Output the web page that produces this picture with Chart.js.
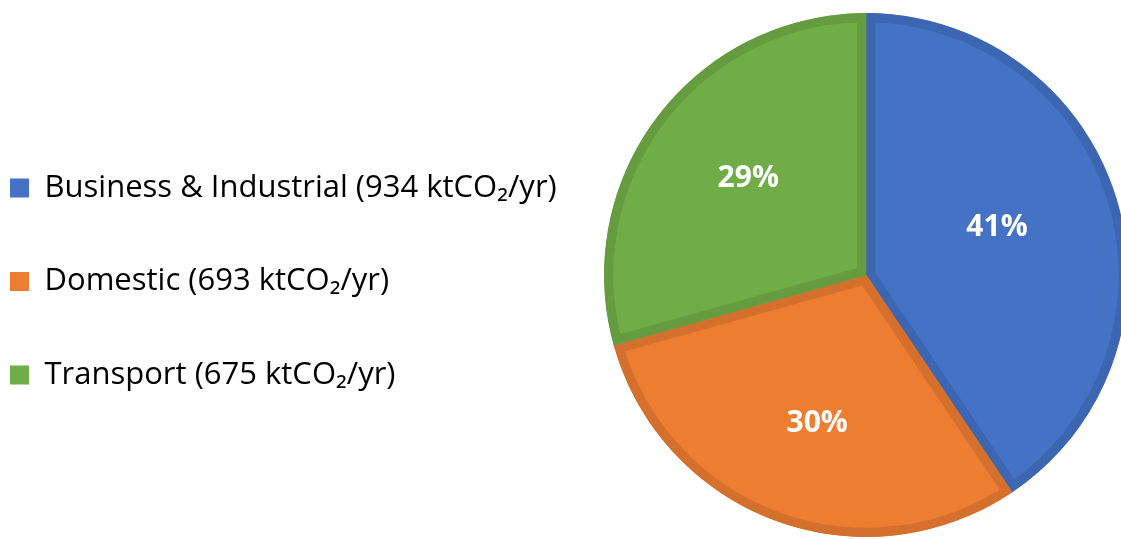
<!DOCTYPE html>
<html>
<head>
<meta charset="utf-8">
<script src="https://cdn.jsdelivr.net/npm/chart.js@4.4.1/dist/chart.umd.min.js"></script>
<style>
  html, body { margin: 0; padding: 0; background: #ffffff; overflow: hidden; width: 1121px; height: 539px; }
  #wrap { position: absolute; left: 0; top: 0; width: 1400px; height: 539px; }
</style>
</head>
<body>
<div id="wrap"><canvas id="c" width="1400" height="539"></canvas></div>
<script>
// ---- data ----
const categories = ['Business & Industrial', 'Domestic', 'Transport'];
const emissions = [934, 693, 675];
const unit = 'ktCO\u2082/yr';

// ---- styles ----
const fillColors = ['#4472C4', '#ED7D31', '#70AD47'];
const borderColors = ['#3C66B1', '#D4702C', '#659C40'];
const TARGET_CX = 866;
const LEGEND_FONT_SIZE = 31;

const legendLabels = categories.map((c, i) => c + ' (' + emissions[i] + ' ' + unit + ')');
const total = emissions.reduce((a, b) => a + b, 0);
const percentLabels = emissions.map(v => Math.round(v / total * 100) + '%');

const pctPlugin = {
  id: 'pctLabels',
  afterDatasetsDraw(chart, args, opts) {
    const ctx = chart.ctx;
    const meta = chart.getDatasetMeta(0);
    ctx.save();
    ctx.font = opts.font;
    ctx.fillStyle = opts.color;
    ctx.textAlign = 'center';
    ctx.textBaseline = 'middle';
    meta.data.forEach((arc, i) => {
      const p = arc.getProps(['x', 'y', 'startAngle', 'endAngle', 'outerRadius'], true);
      const mid = (p.startAngle + p.endAngle) / 2 + opts.angleShiftDeg[i] * Math.PI / 180;
      const r = p.outerRadius * opts.radiusFactor[i];
      ctx.fillText(percentLabels[i], p.x + Math.cos(mid) * r, p.y + Math.sin(mid) * r);
    });
    ctx.restore();
  }
};

const rowPad = 93.5 - LEGEND_FONT_SIZE;
const chart = new Chart(document.getElementById('c'), {
  type: 'pie',
  data: {
    labels: legendLabels,
    datasets: [{
      data: emissions,
      backgroundColor: fillColors,
      borderColor: borderColors,
      borderWidth: 9,
      borderAlign: 'inner',
      borderJoinStyle: 'miter',
      offset: 0,
      hoverOffset: 0,
      radius: 262
    }]
  },
  options: {
    responsive: false,
    animation: false,
    events: [],
    layout: { padding: { left: 10 - rowPad, top: 11, bottom: 0, right: 0 } },
    plugins: {
      tooltip: { enabled: false },
      legend: {
        position: 'left',
        align: 'center',
        maxWidth: 900,
        title: { display: true, text: '', padding: 0, font: { size: 10, lineHeight: 1.3 } },
        labels: {
          boxWidth: 19,
          boxHeight: 19,
          padding: rowPad,
          color: '#000000',
          font: { family: "'Open Sans'", size: LEGEND_FONT_SIZE },
          generateLabels: () => legendLabels.map((t, i) => ({
            text: t,
            fillStyle: fillColors[i],
            strokeStyle: fillColors[i],
            lineWidth: 0,
            fontColor: '#000000',
            hidden: false,
            index: i
          }))
        }
      },
      pctLabels: {
        font: "bold 30px 'Open Sans'",
        color: '#ffffff',
        radiusFactor: [0.532, 0.595, 0.58],
        angleShiftDeg: [-3, -2, 2]
      }
    }
  },
  plugins: [pctPlugin]
});

const a = chart.chartArea;
const cx = (a.left + a.right) / 2;
chart.options.layout.padding.right = 2 * (cx - TARGET_CX);
chart.update();
</script>
</body>
</html>
